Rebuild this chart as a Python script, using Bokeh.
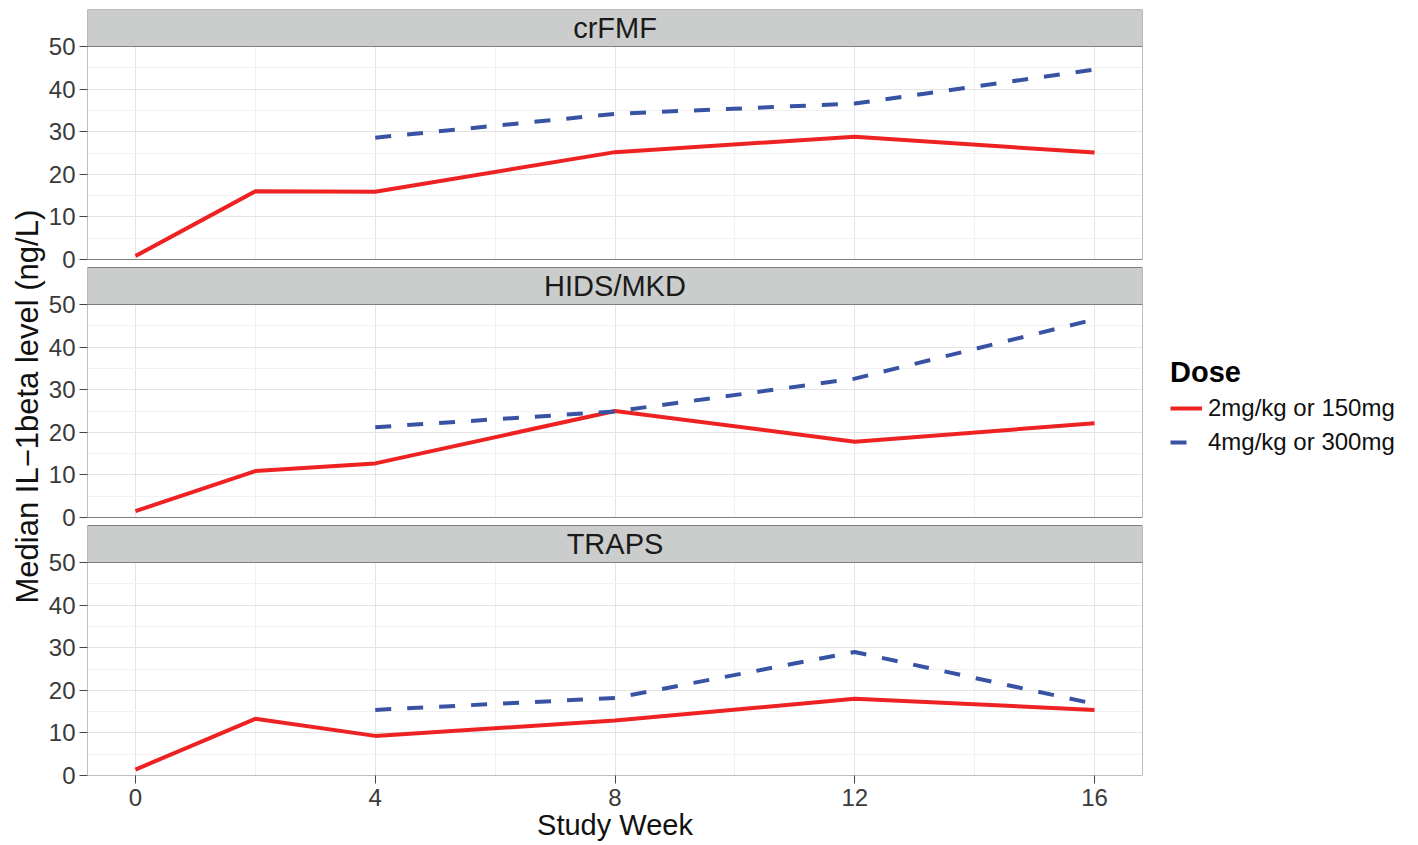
from bokeh.plotting import figure
from bokeh.models import (FixedTicker, Range1d, Legend, LegendItem,
                          ColumnDataSource, Title)
from bokeh.core.properties import value
from bokeh.embed import file_html
from bokeh.resources import INLINE

# ---- data ----
panels = ["crFMF", "HIDS/MKD", "TRAPS"]
weeks_low = [0, 2, 4, 8, 12, 16]
weeks_high = [4, 8, 12, 16]
low_dose = {
    "crFMF":    [0.8, 16.0, 15.9, 25.2, 28.8, 25.1],
    "HIDS/MKD": [1.5, 10.9, 12.7, 25.0, 17.8, 22.1],
    "TRAPS":    [1.4, 13.3, 9.3, 12.9, 18.0, 15.4],
}
high_dose = {
    "crFMF":    [28.6, 34.2, 36.6, 44.6],
    "HIDS/MKD": [21.2, 24.9, 32.6, 46.5],
    "TRAPS":    [15.4, 18.2, 29.0, 16.8],
}
dose_labels = ["2mg/kg or 150mg", "4mg/kg or 300mg"]
x_ticks = [0, 4, 8, 12, 16]
x_minor = [2, 6, 10, 14]
y_ticks = [0, 10, 20, 30, 40, 50]
y_minor = [5, 15, 25, 35, 45]

# ---- style / layout ----
FONT = "Liberation Sans"
RED = "#EE2222"
BLUE = "#3953A4"
BORDER = "#7f7f7f"
STRIP_FILL = "#cbcdcc"
X0, X1 = -0.8, 16.8
Y_TOP = 50.0
PANEL_H = 213          # px of the 0..50 panel
STRIP_H = 37           # px of facet strip
GAP = 8                # px between facets
N = len(panels)
FRAME_H = N * (PANEL_H + STRIP_H) + (N - 1) * GAP
S = PANEL_H / Y_TOP    # px per data unit
Y_END = Y_TOP + STRIP_H / S
GAP_U = GAP / S

p = figure(
    frame_width=1055, frame_height=FRAME_H,
    x_range=Range1d(X0, X1), y_range=Range1d(0, FRAME_H),
    output_backend="svg", toolbar_location=None,
    min_border_left=87, min_border_right=262,
    min_border_top=9, min_border_bottom=70,
)
p.background_fill_color = "white"
p.border_fill_color = "white"
p.outline_line_color = None

# one y range per facet, placing each facet in its own band of the frame
tick_pos, minor_pos, overrides = [], [], {}
for i, name in enumerate(panels):
    b = (N - 1 - i) * (PANEL_H + STRIP_H + GAP)
    p.extra_y_ranges[name] = Range1d(-b / S, (FRAME_H - b) / S)
    for v in y_ticks:
        pos = b + v * S
        tick_pos.append(pos)
        overrides[pos] = str(v)
    for v in y_minor:
        minor_pos.append(b + v * S)

xt = FixedTicker(ticks=x_ticks, minor_ticks=x_minor)
yt = FixedTicker(ticks=tick_pos, minor_ticks=minor_pos)
p.xaxis.ticker = xt
p.yaxis.ticker = yt
p.xgrid.ticker = xt
p.ygrid.ticker = yt
p.yaxis.major_label_overrides = overrides
for g in (p.xgrid, p.ygrid):
    g.grid_line_color = "#e4e4e4"
    g.grid_line_width = 1
    g.minor_grid_line_color = "#f1f1f1"
    g.minor_grid_line_width = 1

for ax in (p.xaxis, p.yaxis):
    ax.axis_line_color = None
    ax.major_tick_line_color = "#444444"
    ax.major_tick_line_width = 1
    ax.major_tick_in = 0
    ax.major_tick_out = 8
    ax.minor_tick_line_color = None
    ax.major_label_text_font = FONT
    ax.major_label_text_color = "#3a3a3a"
    ax.major_label_text_font_size = "24px"
    ax.axis_label_text_font = FONT
    ax.axis_label_text_font_style = "normal"
    ax.axis_label_text_color = "#111111"
    ax.axis_label_text_font_size = "29px"
p.yaxis.major_label_standoff = 4
p.xaxis.major_label_standoff = 5
p.xaxis.axis_label = "Study Week"
p.xaxis.axis_label_standoff = 0

ytitle = Title(text="Median IL\u22121beta level (ng/L)", align="left",
               offset=172, text_font=FONT, text_font_size="31px",
               text_font_style="normal", text_color="#111111", standoff=2)
p.add_layout(ytitle, "left")

red_r, blue_r = [], []
for i, name in enumerate(panels):
    # white gap below the facet (covers grid lines between facets)
    if i < N - 1:
        p.quad(left=[X0], right=[X1], bottom=[-GAP_U], top=[0],
               fill_color="white", line_color=None, y_range_name=name)
    r1 = p.line(weeks_low, low_dose[name], line_color=RED, line_width=4,
                y_range_name=name)
    r2 = p.line(weeks_high, high_dose[name], line_color=BLUE, line_width=4,
                line_dash="16 16", y_range_name=name)
    red_r.append(r1)
    blue_r.append(r2)
    # facet strip
    p.quad(left=[X0], right=[X1], bottom=[Y_TOP], top=[Y_END],
           fill_color=STRIP_FILL, line_color=BORDER, line_width=1,
           y_range_name=name)
    # panel border
    p.quad(left=[X0], right=[X1], bottom=[0], top=[Y_TOP],
           fill_color=None, line_color=BORDER, line_width=1,
           y_range_name=name)
    src = ColumnDataSource(dict(x=[(X0 + X1) / 2], y=[(Y_TOP + Y_END) / 2],
                                t=[name]))
    p.text(x="x", y="y", text="t", source=src, text_align="center",
           text_baseline="middle", text_font=value(FONT),
           text_font_size="29px", text_color="#1a1a1a", y_range_name=name)

legend = Legend(
    items=[LegendItem(label=dose_labels[0], renderers=[red_r[0]]),
           LegendItem(label=dose_labels[1], renderers=[blue_r[0]])],
    title="Dose", location=(28, 316),
)
legend.title_text_font = FONT
legend.title_text_font_size = "29px"
legend.title_text_font_style = "bold"
legend.title_text_color = "#000000"
legend.title_standoff = 2
legend.label_text_font = FONT
legend.label_text_font_size = "24px"
legend.label_text_color = "#111111"
legend.glyph_width = 32
legend.glyph_height = 34
legend.label_standoff = 6
legend.spacing = 0
legend.padding = 0
legend.margin = 0
legend.border_line_color = None
legend.background_fill_alpha = 0
p.add_layout(legend, "right")

open("out.html", "w").write(file_html(p, INLINE))
